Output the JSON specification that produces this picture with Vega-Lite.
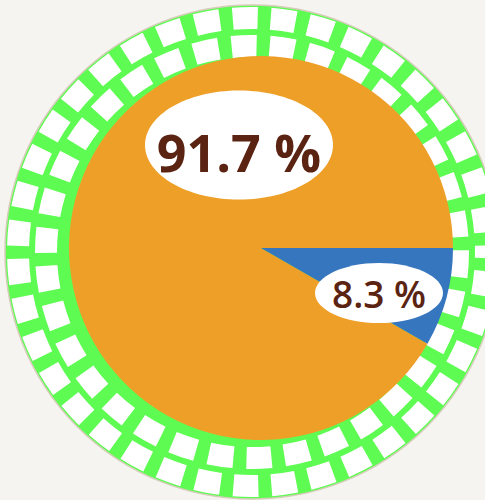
{
  "$schema": "https://vega.github.io/schema/vega-lite/v6.json",
  "width": 448,
  "height": 496,
  "autosize": {"type": "none"},
  "padding": {"left": 37, "top": 0, "right": 0, "bottom": 4},
  "background": "#f6f4f1",
  "config": {"view": {"stroke": null}},
  "data": {
    "values": [
      {"segment": "Majority", "share": 91.7, "label": "91.7 %"},
      {"segment": "Minority", "share": 8.3, "label": "8.3 %"}
    ]
  },
  "layer": [
    {
      "data": {"values": [{"ring": "band"}]},
      "mark": {"type": "point", "shape": "circle", "filled": true, "fill": "#5efc52", "opacity": 1, "size": 244036, "stroke": "#d6ccba", "strokeWidth": 1.5, "xOffset": -9, "yOffset": 4},
      "encoding": {}
    },
    {
      "data": {"values": [{"ring": "inner dots"}]},
      "mark": {"type": "point", "shape": "circle", "filled": false, "stroke": "white", "opacity": 1, "size": 169744, "strokeWidth": 22, "strokeDash": [25, 13], "xOffset": -9, "yOffset": 4},
      "encoding": {}
    },
    {
      "data": {"values": [{"ring": "outer dots"}]},
      "mark": {"type": "point", "shape": "circle", "filled": false, "stroke": "white", "opacity": 1, "size": 219024, "strokeWidth": 22, "strokeDash": [25, 13], "strokeDashOffset": 19, "xOffset": -9, "yOffset": 4},
      "encoding": {}
    },
    {
      "mark": {"type": "arc", "radius": 192},
      "encoding": {
        "theta": {"field": "share", "type": "quantitative", "stack": true, "scale": {"range": [1.5708, 7.854]}},
        "color": {"field": "segment", "type": "nominal", "scale": {"domain": ["Majority", "Minority"], "range": ["#ee9f27", "#3576be"]}, "legend": null},
        "order": {"field": "share", "sort": "ascending"}
      }
    },
    {
      "transform": [{"filter": "datum.share > 50"}],
      "mark": {"type": "point", "shape": "M1,0 C1,0.32 0.5523,0.58 0,0.58 C-0.5523,0.58 -1,0.32 -1,0 C-1,-0.32 -0.5523,-0.58 0,-0.58 C0.5523,-0.58 1,-0.32 1,0 Z", "filled": true, "fill": "white", "opacity": 1, "strokeWidth": 0, "size": 35344, "xOffset": -22, "yOffset": -103},
      "encoding": {}
    },
    {
      "transform": [{"filter": "datum.share > 50"}],
      "mark": {"type": "text", "font": "Open Sans", "fontSize": 52, "fontWeight": 700, "fill": "#5b2312", "align": "center", "baseline": "alphabetic", "xOffset": -22, "yOffset": -76},
      "encoding": {"text": {"field": "label"}}
    },
    {
      "transform": [{"filter": "datum.share < 50"}],
      "mark": {"type": "point", "shape": "M1,0 C1,0.26 0.5523,0.47 0,0.47 C-0.5523,0.47 -1,0.26 -1,0 C-1,-0.26 -0.5523,-0.47 0,-0.47 C0.5523,-0.47 1,-0.26 1,0 Z", "filled": true, "fill": "white", "opacity": 1, "strokeWidth": 0, "size": 16384, "xOffset": 118, "yOffset": 45},
      "encoding": {}
    },
    {
      "transform": [{"filter": "datum.share < 50"}],
      "mark": {"type": "text", "font": "Open Sans", "fontSize": 37, "fontWeight": 600, "fill": "#5b2312", "align": "center", "baseline": "alphabetic", "xOffset": 118, "yOffset": 60},
      "encoding": {"text": {"field": "label"}}
    }
  ]
}
